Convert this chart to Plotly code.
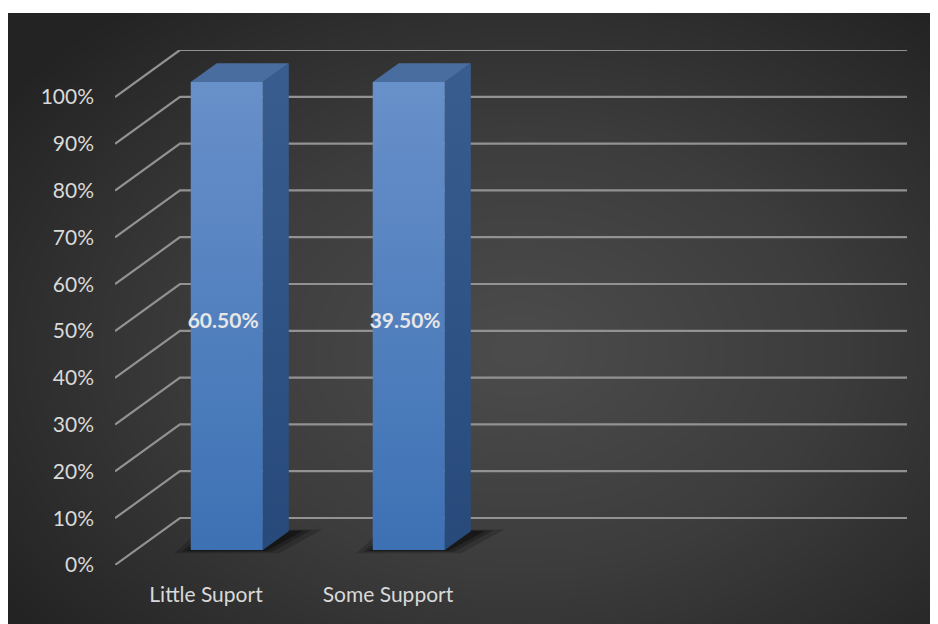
import plotly.graph_objects as go
import numpy as np

# ---- data ----
categories = ["Little Suport", "Some Support"]
values = [60.5, 39.5]          # data labels (%)
y_ticks = list(range(0, 101, 10))
y_tick_text = [f"{t}%" for t in y_ticks]

# 100% stacked: each category holds one series -> full-height stack
stack_share = [v / sum([v]) * 100 for v in values]

# ---- layout / 3D projection styling ----
PAGE = 8                       # browser body margin
W, H = 938 - PAGE, 624 - PAGE
DX, DY = 0.357, 10.04          # depth offset (x units, % units) for full depth
BAR_HALF = 0.198
D_FRONT, D_BACK = 0.32, 0.72
X_MIN, X_MAX = -0.5, 3.852
Y_MAX = 110.04
FONT = "Lato"

fig = go.Figure()

# background radial gradient (styling only)
gx = np.linspace(0, 1, 60)
gy = np.linspace(0, 1, 40)
GX, GY = np.meshgrid(gx, gy)
dist = np.sqrt(((GX - 0.55) / 0.75) ** 2 + ((GY - 0.45) / 0.8) ** 2)
fig.add_trace(go.Heatmap(x=gx, y=gy, z=dist, zsmooth="best", showscale=False,
                         colorscale=[[0, "#4c4c4c"], [0.5, "#3c3c3c"], [1, "#232323"]],
                         zmin=0, zmax=0.9, hoverinfo="skip", xaxis="x", yaxis="y"))

def proj(x, y, d):
    return x + DX * d, y + DY * d

# gridlines: back wall horizontals + side diagonals
gxs, gys = [], []
for t in y_ticks:
    x0, y0 = proj(X_MIN, t, 0)
    x1, y1 = proj(X_MIN, t, 1)
    gxs += [x0, x1, X_MAX, None]
    gys += [y0, y1, y1, None]
fig.add_trace(go.Scatter(x=gxs, y=gys, mode="lines", line=dict(color="#929292", width=2.2),
                         hoverinfo="skip", xaxis="x2", yaxis="y2", showlegend=False))

for i, (cat, h, v) in enumerate(zip(categories, stack_share, values)):
    L, R = i - BAR_HALF, i + BAR_HALF
    # soft shadow on the floor (layered for blur)
    for grow, alpha in [(0.09, 0.18), (0.05, 0.25), (0.02, 0.35)]:
        sx = [proj(L, 0, D_FRONT)[0] - grow, proj(R, 0, D_FRONT)[0] + grow,
              proj(R, 0, D_BACK)[0] + 0.05 + grow * 1.5, proj(L, 0, D_BACK)[0] - grow]
        sy = [proj(L, 0, D_FRONT)[1] - grow * 8, proj(R, 0, D_FRONT)[1] - grow * 8,
              proj(R, 0, D_BACK)[1] + grow * 4, proj(L, 0, D_BACK)[1] + grow * 4]
        fig.add_trace(go.Scatter(x=sx, y=sy, fill="toself", mode="lines", line=dict(width=0),
                                 fillcolor=f"rgba(0,0,0,{alpha})", hoverinfo="skip",
                                 xaxis="x2", yaxis="y2", showlegend=False))
    # side face
    px, py = zip(proj(R, 0, D_FRONT), proj(R, 0, D_BACK), proj(R, h, D_BACK), proj(R, h, D_FRONT))
    fig.add_trace(go.Scatter(x=list(px), y=list(py), fill="toself", mode="lines",
                             line=dict(width=0), fillcolor="#2c5083", hoverinfo="skip",
                             fillgradient=dict(type="vertical",
                                               colorscale=[[0, "#274a7b"], [1, "#3a5d90"]]),
                             xaxis="x2", yaxis="y2", showlegend=False))
    # top face
    px, py = zip(proj(L, h, D_FRONT), proj(R, h, D_FRONT), proj(R, h, D_BACK), proj(L, h, D_BACK))
    fig.add_trace(go.Scatter(x=list(px), y=list(py), fill="toself", mode="lines",
                             line=dict(width=0), fillcolor="#4a6d9f", hoverinfo="skip",
                             xaxis="x2", yaxis="y2", showlegend=False))
    # front face
    px, py = zip(proj(L, 0, D_FRONT), proj(R, 0, D_FRONT), proj(R, h, D_FRONT), proj(L, h, D_FRONT))
    fig.add_trace(go.Scatter(x=list(px), y=list(py), fill="toself", mode="lines",
                             line=dict(width=0), fillcolor="#5282c2", hoverinfo="skip",
                             fillgradient=dict(type="vertical",
                                               colorscale=[[0, "#3d71b4"], [1, "#6890c9"]]),
                             xaxis="x2", yaxis="y2", showlegend=False))
    # data label
    lx, ly = proj(i, h / 2, D_FRONT)
    fig.add_trace(go.Scatter(x=[lx - 0.02], y=[ly - 1.5], mode="text", text=[f"{v:.2f}%"],
                             textfont=dict(family=FONT, size=21, color="#e6e6e6", weight="bold"),
                             textposition="middle center", hoverinfo="skip",
                             xaxis="x2", yaxis="y2", showlegend=False))

def px_x(p):
    return (p - PAGE) / W

def px_y(p):
    return (H - (p - PAGE)) / H

fig.update_layout(
    width=W, height=H,
    margin=dict(l=0, r=0, t=0, b=0),
    paper_bgcolor="white",
    plot_bgcolor="rgba(0,0,0,0)",
    showlegend=False,
    xaxis=dict(domain=[0, 1], range=[0, 1], visible=False, fixedrange=True),
    yaxis=dict(domain=[0, px_y(13)], range=[0, 1], visible=False, fixedrange=True),
    xaxis2=dict(domain=[px_x(115), px_x(907)], range=[X_MIN, X_MAX], anchor="y2",
                tickmode="array", tickvals=list(range(len(categories))), ticktext=categories,
                showgrid=False, zeroline=False, showline=False, ticks="",
                ticklabelstandoff=15, automargin=False,
                tickfont=dict(family=FONT, size=21, color="#d9d9d9")),
    yaxis2=dict(domain=[px_y(565), px_y(50)], range=[0, Y_MAX], anchor="x2",
                tickmode="array", tickvals=y_ticks, ticktext=y_tick_text,
                showgrid=False, zeroline=False, showline=False, ticks="",
                ticklabelstandoff=20, automargin=False,
                tickfont=dict(family=FONT, size=21, color="#d9d9d9")),
)

fig.write_html("out.html")
